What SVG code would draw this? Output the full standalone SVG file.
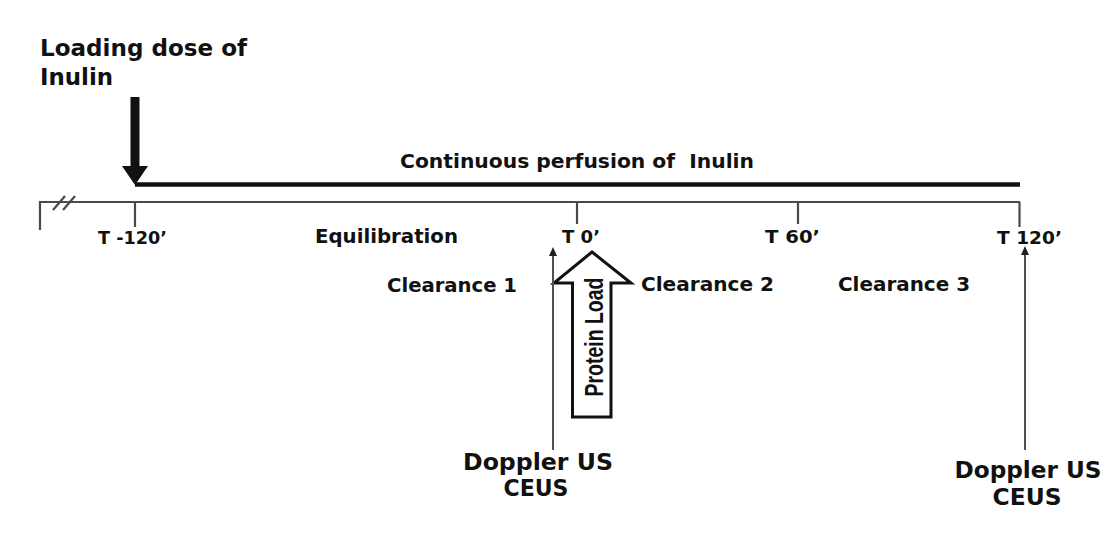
<svg xmlns="http://www.w3.org/2000/svg" width="1107" height="535" viewBox="0 0 1107 535">
  <defs>
    <style>
      text { font-family: "DejaVu Sans", "Liberation Sans", sans-serif; font-weight: bold; fill: #111111; }
      .lbl { font-size: 19px; }
      .tl { font-size: 18px; }
      .big { font-size: 23px; }
      .axis { stroke: #4a4a4a; stroke-width: 2.2; fill: none; }
      .thin { stroke: #505050; stroke-width: 2; fill: none; }
      .head { fill: #222222; }
    </style>
  </defs>
  <rect x="0" y="0" width="1107" height="535" fill="#ffffff"/>

  <g id="loading-dose">
    <text class="big" x="40" y="56" textLength="207" lengthAdjust="spacingAndGlyphs">Loading dose of</text>
    <text class="big" x="40" y="85" textLength="73" lengthAdjust="spacingAndGlyphs">Inulin</text>
    <path d="M130.5,97 L139.5,97 L139.5,166 L148,166 L135,185 L122,166 L130.5,166 Z" fill="#111"/>
  </g>

  <g id="perfusion">
    <text class="lbl" x="577" y="168" text-anchor="middle" textLength="354" lengthAdjust="spacingAndGlyphs">Continuous perfusion of&#160; Inulin</text>
    <line x1="135" y1="184.5" x2="1020" y2="184.5" stroke="#111" stroke-width="4.5"/>
  </g>

  <g id="timeline">
    <path class="axis" d="M40,230 L40,202 L1020,202"/>
    <line class="axis" x1="53" y1="210" x2="65" y2="196"/>
    <line class="axis" x1="63" y1="210" x2="75" y2="196"/>
    <line class="axis" x1="135" y1="202" x2="135" y2="227"/>
    <line class="axis" x1="577" y1="202" x2="577" y2="224"/>
    <line class="axis" x1="798" y1="202" x2="798" y2="224"/>
    <line class="axis" x1="1019.5" y1="202" x2="1019.5" y2="227"/>
  </g>

  <g id="time-labels">
    <text class="tl" x="98" y="244" textLength="69" lengthAdjust="spacingAndGlyphs">T -120’</text>
    <text class="tl" x="562" y="243" textLength="38" lengthAdjust="spacingAndGlyphs">T 0’</text>
    <text class="tl" x="765" y="243" textLength="55" lengthAdjust="spacingAndGlyphs">T 60’</text>
    <text class="tl" x="997" y="244" textLength="65" lengthAdjust="spacingAndGlyphs">T 120’</text>
  </g>

  <g id="equilibration">
    <text class="lbl" x="315" y="243" textLength="143" lengthAdjust="spacingAndGlyphs">Equilibration</text>
  </g>
  <g id="clearance-1">
    <text class="lbl" x="387" y="292" textLength="130" lengthAdjust="spacingAndGlyphs">Clearance 1</text>
  </g>
  <g id="clearance-2">
    <text class="lbl" x="641" y="291" textLength="133" lengthAdjust="spacingAndGlyphs">Clearance 2</text>
  </g>
  <g id="clearance-3">
    <text class="lbl" x="838" y="291" textLength="132" lengthAdjust="spacingAndGlyphs">Clearance 3</text>
  </g>

  <g id="protein-load">
    <path d="M572.5,417 L572.5,283 L554,283 L592,252 L631,283 L611,283 L611,417 Z" fill="#ffffff" stroke="#111" stroke-width="3" stroke-linejoin="miter"/>
    <text x="0" y="0" transform="translate(603,337) rotate(-90)" text-anchor="middle" style="font-family:'Liberation Sans',sans-serif;font-size:25px;" textLength="119" lengthAdjust="spacingAndGlyphs">Protein Load</text>
  </g>

  <g id="doppler-1">
    <text class="big" x="538" y="470" text-anchor="middle" textLength="150" lengthAdjust="spacingAndGlyphs">Doppler US</text>
    <text class="big" x="536" y="496" text-anchor="middle" textLength="65" lengthAdjust="spacingAndGlyphs">CEUS</text>
  </g>
  <g id="doppler-2">
    <text class="big" x="1028" y="478" text-anchor="middle" textLength="147" lengthAdjust="spacingAndGlyphs">Doppler US</text>
    <text class="big" x="1027" y="505" text-anchor="middle" textLength="69" lengthAdjust="spacingAndGlyphs">CEUS</text>
  </g>

  <g id="connectors">
    <line class="thin" x1="553" y1="450" x2="553" y2="255"/>
    <path class="head" d="M553,247 L557,256 L549,256 Z"/>
    <line class="thin" x1="1025" y1="450" x2="1025" y2="254"/>
    <path class="head" d="M1025,246 L1029,255 L1021,255 Z"/>
  </g>
</svg>
